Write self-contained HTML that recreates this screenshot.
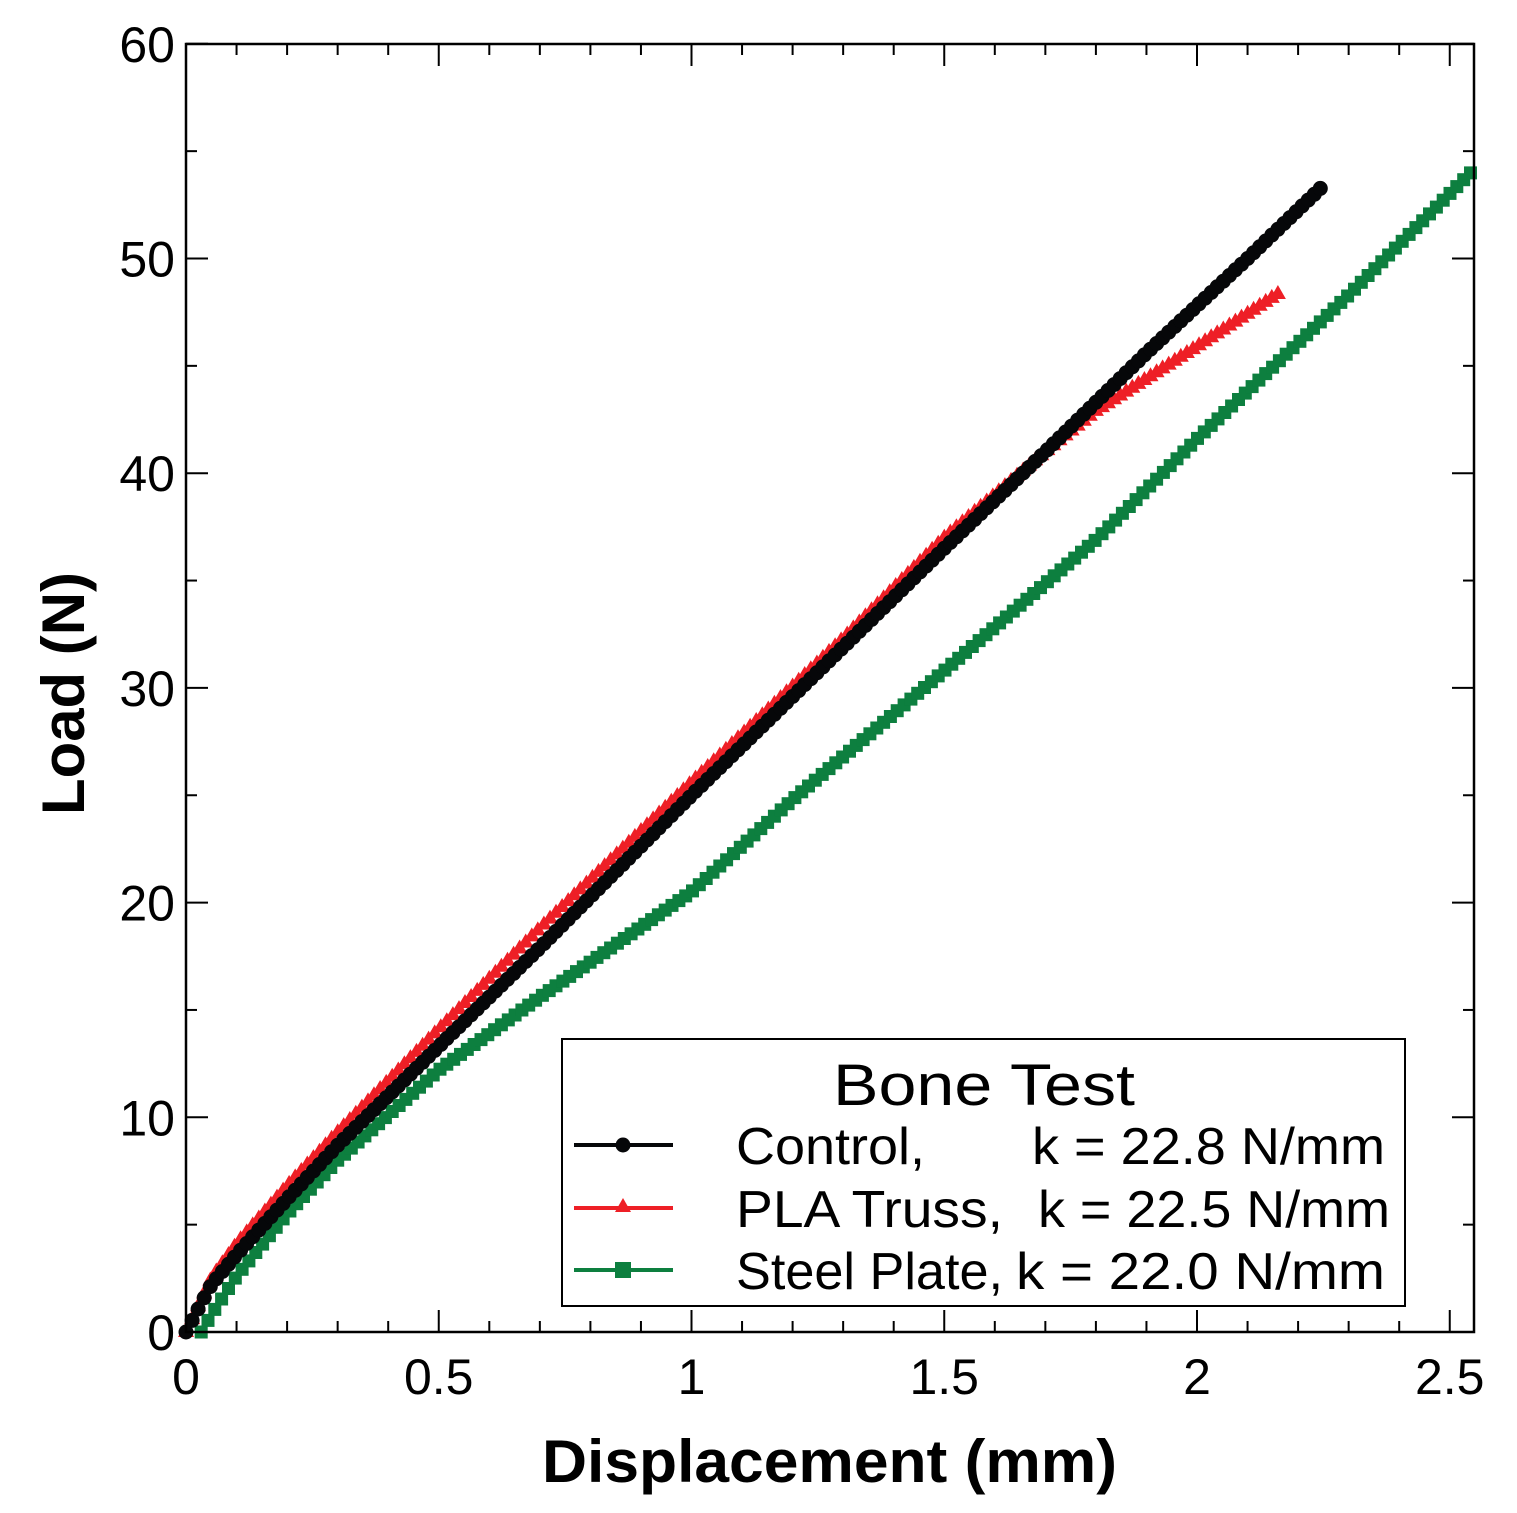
<!DOCTYPE html>
<html><head><meta charset="utf-8"><style>
html,body{margin:0;padding:0;background:#fff}
svg{display:block}
text{font-family:"Liberation Sans",sans-serif}
</style></head><body>
<svg id="s" width="1517" height="1513" xmlns="http://www.w3.org/2000/svg"></svg>
<script>
const s=document.getElementById('s');
const X0=186,XS=505.5,Y0=1332,YS=21.47;
const px=x=>X0+x*XS, py=y=>Y0-y*YS;
let h='';
function interp(pts,x){for(let i=0;i<pts.length-1;i++){if(x<=pts[i+1][0]){const t=(x-pts[i][0])/(pts[i+1][0]-pts[i][0]);return pts[i][1]+t*(pts[i+1][1]-pts[i][1]);}}return pts[pts.length-1][1];}
const ctrl=[[0,0],[0.02,0.9],[0.05,2.2],[0.1,3.6],[0.2,6.2],[0.3,8.7],[0.5,13.3],[0.7,17.9],[1,25],[1.3,31.9],[1.5,36.5],[1.7,41],[1.9,45.6],[2.1,50],[2.25,53.4]];
const red=[[0,0],[0.02,1.0],[0.05,2.5],[0.1,4.1],[0.2,6.8],[0.3,9.3],[0.5,14.1],[0.7,18.8],[1,25.6],[1.3,32.3],[1.5,37],[1.7,41],[1.8,42.9],[2,45.9],[2.17,48.5]];
const grn=[[0.03,0],[0.05,0.8],[0.1,2.6],[0.2,5.5],[0.3,8],[0.5,12.2],[0.7,15.6],[1,20.5],[1.2,24.8],[1.5,30.8],[1.8,36.9],[2,41.6],[2.3,48.3],[2.55,54.2]];
function series(pts,col,mk,step,x0,x1){
  let d='',m='';
  for(let x=x0;x<=x1+1e-9;x+=step){const X=px(x),Y=py(interp(pts,x));d+=(d?'L':'M')+X.toFixed(1)+','+Y.toFixed(1);
    if(mk=='c')m+=`<circle cx="${X.toFixed(1)}" cy="${Y.toFixed(1)}" r="7.5"/>`;
    else if(mk=='t')m+=`<path d="M${X.toFixed(1)},${(Y-9).toFixed(1)}l8,14h-16z"/>`;
    else m+=`<rect x="${(X-6.5).toFixed(1)}" y="${(Y-6.5).toFixed(1)}" width="13" height="13"/>`;}
  return `<path d="${d}" stroke="${col}" stroke-width="4" fill="none"/><g fill="${col}">${m}</g>`;
}
h+=series(grn,'#0d7f3f','s',0.0135,0.03,2.55);
h+=series(red,'#ee1f26','t',0.012,0,2.17);
h+=series(ctrl,'#060709','c',0.012,0,2.25);
h+=`<rect x="186" y="44" width="1288" height="1288" fill="none" stroke="#000" stroke-width="2.5"/>`;
for(let i=0;i<=25;i++){const X=px(i*0.1);const L=i%5==0?22:11;h+=`<line x1="${X}" y1="1332" x2="${X}" y2="${1332-L}" stroke="#000" stroke-width="2"/><line x1="${X}" y1="44" x2="${X}" y2="${44+L}" stroke="#000" stroke-width="2"/>`;}
for(let i=0;i<=12;i++){const Y=py(i*5);const L=i%2==0?22:11;h+=`<line x1="186" y1="${Y}" x2="${186+L}" y2="${Y}" stroke="#000" stroke-width="2"/><line x1="1474" y1="${Y}" x2="${1474-L}" y2="${Y}" stroke="#000" stroke-width="2"/>`;}
['0','0.5','1','1.5','2','2.5'].forEach((t,i)=>{h+=`<text x="${px(i*0.5)}" y="1394" font-size="50" text-anchor="middle">${t}</text>`});
for(let i=0;i<=6;i++)h+=`<text x="175" y="${py(i*10)+18}" font-size="50" text-anchor="end">${i*10}</text>`;
h+=`<text x="542" y="1482" font-size="60" font-weight="bold" textLength="575" lengthAdjust="spacingAndGlyphs">Displacement (mm)</text>`;
h+=`<text transform="translate(84,815) rotate(-90)" font-size="60" font-weight="bold" textLength="243" lengthAdjust="spacingAndGlyphs">Load (N)</text>`;
h+=`<rect x="562" y="1039" width="843" height="267" fill="#fff" stroke="#000" stroke-width="2"/>`;
h+=`<text x="833" y="1105" font-size="58" textLength="302" lengthAdjust="spacingAndGlyphs">Bone Test</text>`;
const L=[['#060709','c','Control,',189,'k = 22.8 N/mm',1032,353,1145],['#ee1f26','t','PLA Truss,',267,'k = 22.5 N/mm',1038,352,1208],['#0d7f3f','s','Steel Plate,',267,'k = 22.0 N/mm',1016,369,1270]];
L.forEach(([c,m,a,al,b,bx,bl,y])=>{h+=`<line x1="574" y1="${y}" x2="673" y2="${y}" stroke="${c}" stroke-width="4"/>`;
 if(m=='c')h+=`<circle cx="623" cy="${y}" r="7.5" fill="${c}"/>`;else if(m=='t')h+=`<path d="M623,${y-10}l8,14h-16z" fill="${c}"/>`;else h+=`<rect x="615" y="${y-8}" width="16" height="16" fill="${c}"/>`;
 h+=`<text x="736" y="${y+19}" font-size="52" textLength="${al}" lengthAdjust="spacingAndGlyphs">${a}</text><text x="${bx}" y="${y+19}" font-size="52" textLength="${bl}" lengthAdjust="spacingAndGlyphs">${b}</text>`;});
s.innerHTML=h;
</script>
</body></html>
